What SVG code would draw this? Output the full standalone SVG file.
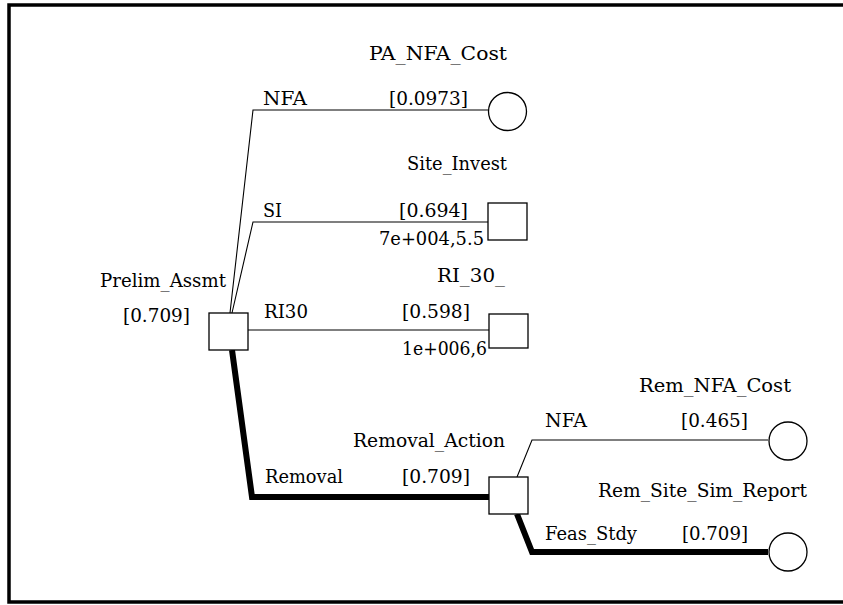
<svg xmlns="http://www.w3.org/2000/svg" width="843" height="605" viewBox="0 0 843 605">
<style>
text{font-family:'DejaVu Serif','Liberation Serif',serif;font-size:18.5px;fill:#000}
.n{fill:#fff;stroke:#000;stroke-width:1.3}
.c{fill:none;stroke:#000;stroke-width:1.1}
.t{fill:none;stroke:#000;stroke-width:6;stroke-linejoin:miter}
</style>
<rect width="843" height="605" fill="#fff"/>
<path d="M846 5H9V602H846" fill="none" stroke="#000" stroke-width="3.5"/>
<g id="connectors">
<polyline class="c" points="230,313 253,110 488,110"/>
<polyline class="c" points="232,313 253,222 488,222"/>
<polyline class="c" points="248,330 489,330"/>
<polyline class="t" points="232,350 252,497 489,497"/>
<polyline class="c" points="517,477 532,440 768,440"/>
<polyline class="t" points="517,514 532,552 768,552"/>
<text x="263" y="105" textLength="44" lengthAdjust="spacingAndGlyphs">NFA</text>
<text x="389" y="105" textLength="79" lengthAdjust="spacingAndGlyphs">[0.0973]</text>
<text x="263" y="217" textLength="19" lengthAdjust="spacingAndGlyphs">SI</text>
<text x="399" y="217" textLength="69" lengthAdjust="spacingAndGlyphs">[0.694]</text>
<text x="264" y="318" textLength="44" lengthAdjust="spacingAndGlyphs">RI30</text>
<text x="402" y="318" textLength="68" lengthAdjust="spacingAndGlyphs">[0.598]</text>
<text x="265" y="483" textLength="78" lengthAdjust="spacingAndGlyphs">Removal</text>
<text x="402" y="483" textLength="68" lengthAdjust="spacingAndGlyphs">[0.709]</text>
<text x="545" y="427" textLength="42" lengthAdjust="spacingAndGlyphs">NFA</text>
<text x="681" y="427" textLength="67" lengthAdjust="spacingAndGlyphs">[0.465]</text>
<text x="545" y="540" textLength="92" lengthAdjust="spacingAndGlyphs">Feas_Stdy</text>
<text x="682" y="540" textLength="66" lengthAdjust="spacingAndGlyphs">[0.709]</text>
</g>
<g id="prelim_assmt">
<rect class="n" x="209" y="313" width="39" height="37"/>
<text x="100" y="287" textLength="126" lengthAdjust="spacingAndGlyphs">Prelim_Assmt</text>
<text x="123" y="322" textLength="67" lengthAdjust="spacingAndGlyphs">[0.709]</text>
</g>
<g id="pa_nfa_cost">
<circle class="n" cx="507.5" cy="111.5" r="19"/>
<text x="369" y="60" textLength="138" lengthAdjust="spacingAndGlyphs">PA_NFA_Cost</text>
</g>
<g id="site_invest">
<rect class="n" x="488" y="203" width="39" height="37"/>
<text x="407" y="170" textLength="100" lengthAdjust="spacingAndGlyphs">Site_Invest</text>
<text x="379" y="245" textLength="105" lengthAdjust="spacingAndGlyphs">7e+004,5.5</text>
</g>
<g id="ri_30">
<rect class="n" x="489" y="314" width="39" height="34"/>
<text x="437" y="282" textLength="68" lengthAdjust="spacingAndGlyphs">RI_30_</text>
<text x="402" y="355" textLength="85" lengthAdjust="spacingAndGlyphs">1e+006,6</text>
</g>
<g id="removal_action">
<rect class="n" x="489" y="477" width="39" height="37"/>
<text x="353" y="447" textLength="152" lengthAdjust="spacingAndGlyphs">Removal_Action</text>
</g>
<g id="rem_nfa_cost">
<circle class="n" cx="788" cy="441" r="19"/>
<text x="639" y="392" textLength="152" lengthAdjust="spacingAndGlyphs">Rem_NFA_Cost</text>
</g>
<g id="rem_site_sim_report">
<circle class="n" cx="788" cy="552" r="19"/>
<text x="598" y="497" textLength="209" lengthAdjust="spacingAndGlyphs">Rem_Site_Sim_Report</text>
</g>
</svg>
